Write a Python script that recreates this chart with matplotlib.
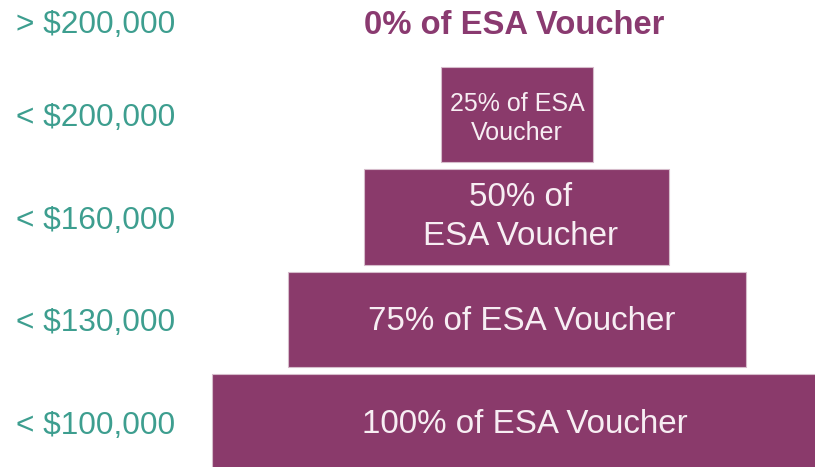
import matplotlib.pyplot as plt
import matplotlib.transforms as mtransforms

plt.rcParams['font.family'] = ['Liberation Sans', 'DejaVu Sans']

# income brackets, voucher share (%) and text shown for each row
ranges = ["> $200,000", "< $200,000", "< $160,000", "< $130,000", "< $100,000"]
shares = [0, 25, 50, 75, 100]
labels = ["0% of ESA Voucher", "25% of ESA\nVoucher", "50% of\nESA Voucher",
          "75% of ESA Voucher", "100% of ESA Voucher"]
rows = [0, 1, 2, 3, 4]

bar_col = '#8a3a6b'
teal = '#3d9e8f'

fig = plt.figure(figsize=(8.15, 4.67), dpi=100)
ax = fig.add_axes([0, 0, 1, 1])

# 1% of voucher = 6.1 px, bars centred at x=517 px; rows 102.5 px apart
px_per_pct = 6.1
cx = 517
ax.set_xlim((0 - cx) / px_per_pct, (815 - cx) / px_per_pct)
ax.set_ylim((467 - 12) / 102.5, (0 - 12) / 102.5)
ax.axis('off')

# small nudges so the text sits like in the original slide
xoff = {25: 0.0, 50: 0.6, 75: 0.7, 100: 1.3}
yoff = {25: 0.04, 50: 0.0, 75: 0.02, 100: 0.02}

for r, s, lab in zip(rows, shares, labels):
    if s > 0:
        ax.barh(r, s, left=-s / 2, height=0.927, color=bar_col,
                edgecolor='#d6bccb', linewidth=0.8)
        size = 18 if s == 25 else 23.9
        ax.text(xoff[s], r + yoff[s], lab, ha='center', va='center',
                color='#f7eef3', fontsize=size,
                linespacing=1.25 if s == 25 else 1.3)
    else:
        ax.text(-0.4, r + 0.13, lab, ha='center', va='center', color='#8a3a70',
                fontsize=23.6, fontweight='bold')

trans = mtransforms.blended_transform_factory(ax.transAxes, ax.transData)
for r, rng in zip(rows, ranges):
    yy = r + 0.13 if r == 0 else r + 0.035
    ax.text(16 / 815, yy, rng, transform=trans, ha='left', va='center',
            color=teal, fontsize=22.8)

plt.savefig('out.png', dpi=100)
